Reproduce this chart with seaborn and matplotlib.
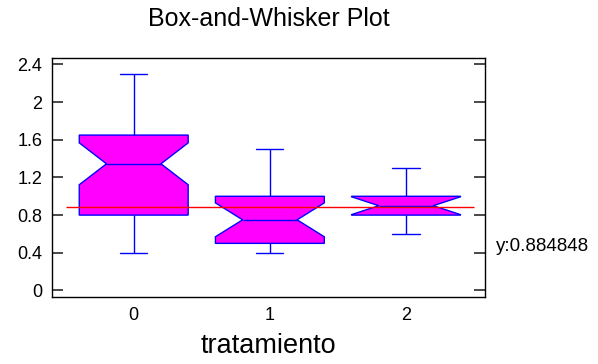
import matplotlib
matplotlib.use("Agg")
import matplotlib.pyplot as plt
import seaborn as sns
import pandas as pd

# ---- data ----
categories = ["0", "1", "2"]
grupo_0 = [0.4, 0.5, 0.55, 0.6, 0.65, 0.7, 0.7, 0.75, 0.8, 0.8, 0.9, 1.0,
           1.05, 1.1, 1.2, 1.25, 1.3, 1.3, 1.39, 1.4, 1.45, 1.5, 1.5, 1.55,
           1.6, 1.6, 1.65, 1.65, 1.7, 1.8, 1.9, 2.0, 2.05, 2.1, 2.2, 2.3]
grupo_1 = [0.4, 0.4, 0.45, 0.5, 0.5, 0.5, 0.6, 0.65, 0.7, 0.75, 0.8, 0.85,
           0.9, 1.0, 1.0, 1.1, 1.2, 1.3, 1.5]
grupo_2 = [0.6, 0.7, 0.8, 0.8, 0.85, 0.9, 0.95, 1.0, 1.0, 1.1, 1.3]
grand_mean = 0.884848
yticks = [0, 0.4, 0.8, 1.2, 1.6, 2.0, 2.4]
ytick_labels = ["0", "0.4", "0.8", "1.2", "1.6", "2", "2.4"]

groups = [grupo_0, grupo_1, grupo_2]
df = pd.DataFrame({
    "tratamiento": [c for c, g in zip(categories, groups) for _ in g],
    "valor": [v for g in groups for v in g],
})

sns.set_theme(style="white")
plt.rcParams["font.family"] = ["Liberation Sans", "DejaVu Sans"]
plt.rcParams["text.color"] = "black"

fig = plt.figure(figsize=(5.98, 3.64), dpi=100)
ax = fig.add_axes([0.087, 0.184, 0.724, 0.657])

sns.boxplot(data=df, x="tratamiento", y="valor", order=categories, ax=ax,
            color="#FF00FF", saturation=1, linecolor="#0000FF", linewidth=1.0,
            notch=True, whis=(0, 100), width=0.8, capwidths=0.2)

ax.hlines(grand_mean, -0.5, 2.5, colors="red", linewidth=1.0, zorder=5)
ax.text(2.66, 0.47, "y:%.6f" % grand_mean, fontsize=13.5, va="center",
        ha="left", color="black", clip_on=False)

ax.set_xlim(-0.6, 2.58)
ax.set_ylim(-0.07, 2.47)
ax.set_yticks(yticks)
ax.set_yticklabels(ytick_labels)
ax.set_xlabel("tratamiento", fontsize=19.5, labelpad=7, color="black")
ax.set_ylabel("")

for s in ax.spines.values():
    s.set_visible(True)
    s.set_color("black")
    s.set_linewidth(1.0)

ax.yaxis.set_ticks_position("both")
ax.tick_params(axis="y", left=True, right=True, direction="in", length=8,
               width=1.3, color="#3a3a3a", labelsize=13, labelcolor="black",
               pad=7)
ax.tick_params(axis="x", bottom=False, length=0, labelsize=13,
               labelcolor="black", pad=7)

fig.text(0.449, 0.948, "Box-and-Whisker Plot", ha="center", va="center",
         fontsize=18, color="black")

fig.savefig("out.png", dpi=100, facecolor="white")
